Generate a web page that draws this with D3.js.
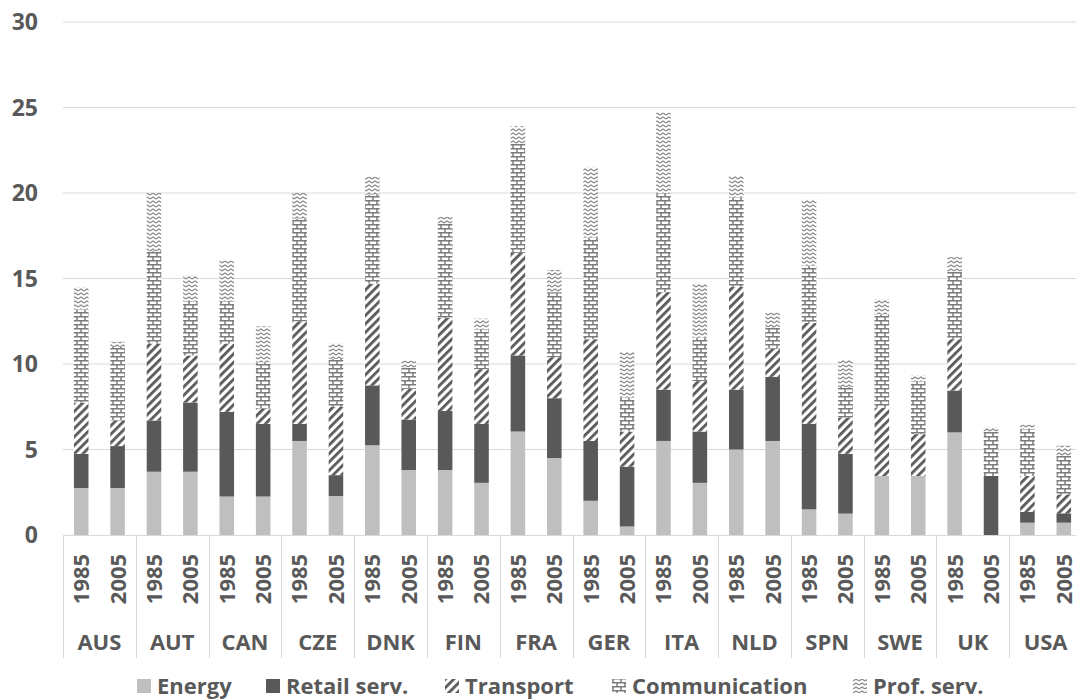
<!DOCTYPE html>
<html>
<head>
<meta charset="utf-8">
<script src="https://cdn.jsdelivr.net/npm/d3@7/dist/d3.min.js"></script>
<style>
html,body{margin:0;padding:0;background:#fff;overflow:hidden;}
svg{display:block;}
text{font-family:"Open Sans",Lato,sans-serif;font-weight:bold;fill:#595959;}
</style>
</head>
<body>
<script>
const countries = ["AUS","AUT","CAN","CZE","DNK","FIN","FRA","GER","ITA","NLD","SPN","SWE","UK","USA"];
const years = ["1985","2005"];
const seriesNames = ["Energy","Retail serv.","Transport","Communication","Prof. serv."];
const yTicks = [0,5,10,15,20,25,30];
// values in order: country x year (1985, 2005)
const energy        = [2.75,2.75, 3.7,3.7, 2.25,2.25, 5.5,2.28, 5.25,3.8, 3.8,3.05, 6.05,4.5, 2.0,0.5, 5.5,3.05, 5.0,5.5, 1.5,1.25, 3.45,3.45, 6.0,0, 0.72,0.72];
const retail        = [2.0,2.45, 3.0,4.05, 4.95,4.25, 1.0,1.22, 3.5,2.95, 3.45,3.45, 4.45,3.5, 3.5,3.5, 3.0,3.0, 3.5,3.75, 5.0,3.5, 0,0, 2.45,3.45, 0.63,0.55];
const transport     = [3.0,1.5, 4.5,2.75, 4.0,0.9, 6.0,4.0, 5.95,1.8, 5.45,3.2, 6.0,2.4, 5.95,2.05, 5.7,2.95, 6.0,1.65, 5.9,2.1, 4.0,2.45, 3.0,0, 2.1,1.1];
const communication = [5.45,4.3, 5.4,3.2, 2.5,2.7, 6.0,2.8, 5.2,1.25, 5.5,2.35, 6.4,3.8, 5.95,2.0, 5.8,2.55, 5.25,1.25, 3.35,1.8, 5.45,3.1, 3.95,2.6, 2.75,2.25];
const prof          = [1.3,0.3, 3.4,1.5, 2.35,2.1, 1.5,0.9, 1.05,0.4, 0.4,0.6, 1.0,1.3, 4.1,2.65, 4.7,3.15, 1.25,0.85, 3.85,1.6, 0.9,0.35, 0.85,0.25, 0.25,0.6];

const W = 1076, H = 700;
const svg = d3.select("body").append("svg").attr("width", W).attr("height", H);
const defs = svg.append("defs");

// patterns
const pT = defs.append("pattern").attr("id","pTransport").attr("patternUnits","userSpaceOnUse")
  .attr("width",6).attr("height",6).attr("patternTransform","rotate(45)");
pT.append("rect").attr("width",6).attr("height",6).attr("fill","#fff");
pT.append("rect").attr("x",0).attr("y",0).attr("width",2.8).attr("height",6).attr("fill","#595959");

const pC = defs.append("pattern").attr("id","pComm").attr("patternUnits","userSpaceOnUse")
  .attr("width",8).attr("height",8);
pC.append("rect").attr("width",8).attr("height",8).attr("fill","#fff");
pC.append("path").attr("d","M0,0.75H8M0,4.75H8M1,0.75V4.75M5,4.75V8.75")
  .attr("stroke","#7a7a7a").attr("stroke-width",1.5).attr("fill","none");

const pP = defs.append("pattern").attr("id","pProf").attr("patternUnits","userSpaceOnUse")
  .attr("width",6).attr("height",4);
pP.append("rect").attr("width",6).attr("height",4).attr("fill","#fff");
pP.append("path").attr("d","M0,3L3,1L6,3").attr("stroke","#8a8a8a").attr("stroke-width",1.3).attr("fill","none");

const colors = ["#bfbfbf","#595959","url(#pTransport)","url(#pComm)","url(#pProf)"];

const rows = [];
countries.forEach((c, i) => years.forEach((yr, j) => {
  const k = i*2 + j;
  rows.push({country:c, year:yr, s0:energy[k], s1:retail[k], s2:transport[k], s3:communication[k], s4:prof[k]});
}));

const stack = d3.stack().keys(["s0","s1","s2","s3","s4"]);
const layers = stack(rows);

const x0 = d3.scaleBand().domain(countries).range([63, 1082]).padding(0);
const x1 = d3.scaleBand().domain(years).range([0, x0.bandwidth()]).paddingInner(0.6).paddingOuter(0.3);
const y = d3.scaleLinear().domain([0,30]).range([535, 22]);

// gridlines
svg.append("g").selectAll("line").data(yTicks.filter(t=>t>0)).join("line")
  .attr("x1",63).attr("x2",W).attr("y1",d=>y(d)).attr("y2",d=>y(d))
  .attr("stroke","#d9d9d9").attr("stroke-width",1);

// y tick labels
svg.append("g").selectAll("text").data(yTicks).join("text")
  .attr("x",38).attr("y",d=>y(d)).attr("dy","0.36em").attr("text-anchor","end")
  .attr("font-size",23).text(d=>d);

// bars
const g = svg.append("g");
layers.forEach((layer, li) => {
  g.append("g").attr("fill", colors[li]).selectAll("rect").data(layer).join("rect")
    .attr("x", d => x0(d.data.country) + x1(d.data.year))
    .attr("width", x1.bandwidth())
    .attr("y", d => y(d[1]))
    .attr("height", d => Math.max(0, y(d[0]) - y(d[1])));
});

// x axis baseline and separators
svg.append("line").attr("x1",63).attr("x2",W).attr("y1",y(0)+0.5).attr("y2",y(0)+0.5)
  .attr("stroke","#d9d9d9").attr("stroke-width",1);
const seps = countries.map(c => x0(c)).concat([x0.range()[1]]);
svg.append("g").selectAll("line").data(seps).join("line")
  .attr("x1",d=>Math.round(d)+0.5).attr("x2",d=>Math.round(d)+0.5)
  .attr("y1",y(0)).attr("y2",658).attr("stroke","#d9d9d9").attr("stroke-width",1);

// year labels
svg.append("g").selectAll("text").data(rows).join("text")
  .attr("transform", d => `translate(${x0(d.country)+x1(d.year)+x1.bandwidth()/2},579) rotate(-90)`)
  .attr("text-anchor","middle").attr("dy","0.36em").attr("font-size",22)
  .text(d=>d.year);

// country labels
svg.append("g").selectAll("text").data(countries).join("text")
  .attr("x", d => x0(d) + x0.bandwidth()/2).attr("y",642).attr("dy","0.36em")
  .attr("text-anchor","middle").attr("font-size",22).text(d=>d);

// legend
const legendX = [137, 266, 445, 612, 853];
const leg = svg.append("g").selectAll("g").data(seriesNames).join("g")
  .attr("transform",(d,i)=>`translate(${legendX[i]},686)`);
leg.append("rect").attr("x",0).attr("y",-7).attr("width",14).attr("height",14)
  .attr("fill",(d,i)=>colors[i]);
leg.append("text").attr("x",20).attr("y",0).attr("dy","0.36em").attr("font-size",22).text(d=>d);
</script>
</body>
</html>
